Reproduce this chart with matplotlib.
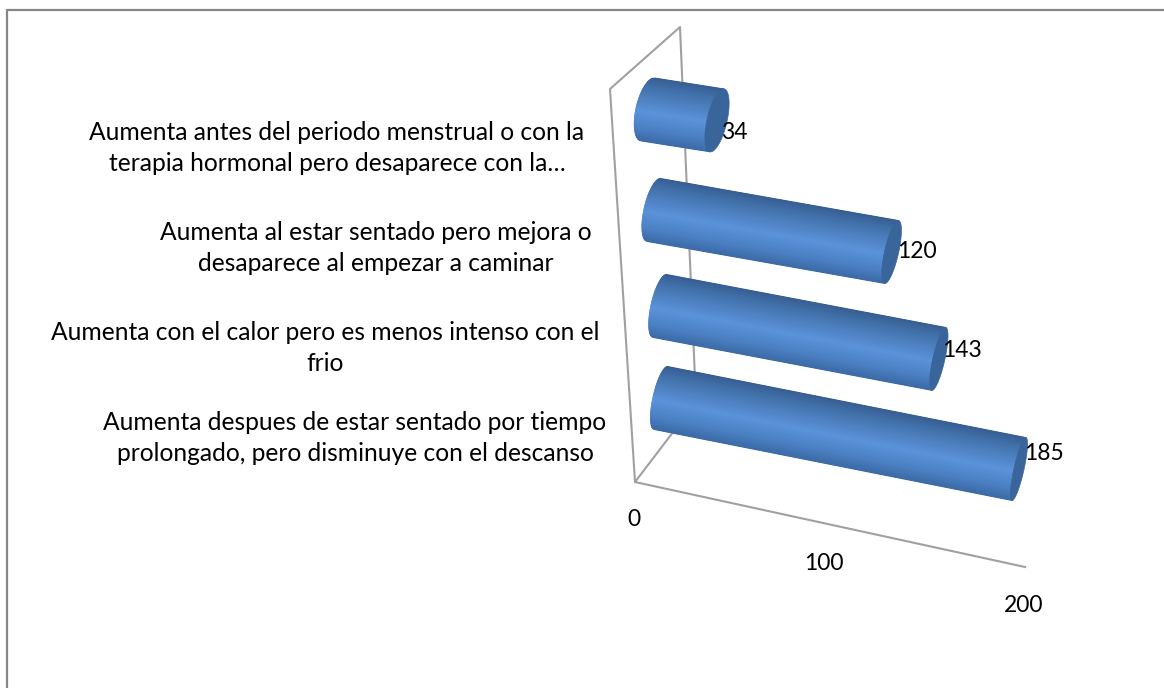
import numpy as np
import matplotlib
matplotlib.use('Agg')
import matplotlib.pyplot as plt
from matplotlib.collections import PolyCollection
from matplotlib.colors import LinearSegmentedColormap
from matplotlib.patches import Polygon

# Data, bottom bar first
categories = [
    'Aumenta despues de estar sentado por tiempo\nprolongado, pero disminuye con el descanso',
    'Aumenta con el calor pero es menos intenso con el\nfrio',
    'Aumenta al estar sentado pero mejora o\ndesaparece al empezar a caminar',
    'Aumenta antes del periodo menstrual o con la\nterapia hormonal pero desaparece con la…',
]
values = [185, 143, 120, 34]
value_ticks = [0, 100, 200]

# Fake 3D projection (pixels), one row per bar because of the perspective
bar_origin = [(661, 398), (660, 306), (654, 210), (648, 109.5)]
bar_step = [(1.935, 0.384), (1.95, 0.37), (1.98, 0.35), (2.03, 0.32)]
cap_minor = [5, 6, 7, 10]
base_minor = [8, 9, 10, 12]
half_height = (-7, 31.5)

cat_label_pos = [(355, 438), (325, 348), (376, 248), (337, 148)]
value_label_off = [(25, -16), (23.5, -8), (25.5, -1), (17.5, 12)]
tick_label_off = [(-1, 38), (-6, 38.5), (-1, 39)]

floor_origin = (635, 482)
floor_step = (1.95, 0.425)

wall_color = '#a0a0a0'
border_color = '#868686'
cap_color = '#39659b'
cmap = LinearSegmentedColormap.from_list(
    'cyl', [(0, '#375f93'), (0.18, '#4373ad'), (0.55, '#5b93da'),
            (0.82, '#4a7fc2'), (1, '#3c6ba6')])

plt.rcParams['font.family'] = ['Lato', 'DejaVu Sans']
fig = plt.figure(figsize=(11.64, 6.88), dpi=100)
ax = fig.add_axes([0, 0, 1, 1])
ax.set_xlim(0, 1164)
ax.set_ylim(688, 0)
ax.axis('off')

# Chart border
ax.plot([7, 7, 1164], [688, 10, 10], color=border_color, lw=1.6, zorder=1)

# Walls
ax.plot([635, 610, 680, 696], [482, 89, 27, 402], color=wall_color, lw=1.5, zorder=2)
ax.plot([696, 635, 635 + floor_step[0] * 200],
        [402, 482, 482 + floor_step[1] * 200], color=wall_color, lw=1.5, zorder=2)

for t, off in zip(value_ticks, tick_label_off):
    ax.text(floor_origin[0] + floor_step[0] * t + off[0],
            floor_origin[1] + floor_step[1] * t + off[1], str(t),
            fontsize=16.5, ha='center', va='center', color='black')


def cylinder(org, step, val, minor0, minor1, z):
    x1 = org[0] + step[0] * val
    y1 = org[1] + step[1] * val
    nrm = np.hypot(*step)
    ux, uy = step[0] / nrm, step[1] / nrm
    tt = np.linspace(-1, 1, 90)
    polys = []
    for a, b in zip(tt[:-1], tt[1:]):
        pts = []
        for t, end in ((a, 0), (b, 0), (b, 1), (a, 1)):
            s = -np.sqrt(1 - t * t)
            if end == 0:
                pts.append((org[0] + half_height[0] * t + ux * minor0 * s,
                            org[1] + half_height[1] * t + uy * minor0 * s))
            else:
                pts.append((x1 + half_height[0] * t, y1 + half_height[1] * t))
        polys.append(pts)
    cols = cmap((tt[:-1] + 1) / 2)
    ax.add_collection(PolyCollection(polys, facecolors=cols, edgecolors=cols,
                                     linewidths=0.6, zorder=z))
    # end cap
    th = np.linspace(0, 2 * np.pi, 100)
    cx = x1 + half_height[0] * np.sin(th) + ux * minor1 * np.cos(th)
    cy = y1 + half_height[1] * np.sin(th) + uy * minor1 * np.cos(th)
    ax.add_patch(Polygon(np.column_stack([cx, cy]), closed=True, fc=cap_color,
                         ec=cap_color, lw=0.5, zorder=z + 0.5))
    return x1, y1


for i, val in enumerate(values):
    x1, y1 = cylinder(bar_origin[i], bar_step[i], val, base_minor[i], cap_minor[i], 5 - i)
    ax.text(x1 + value_label_off[i][0], y1 + value_label_off[i][1], str(val),
            fontsize=16.5, ha='center', va='center', color='black', zorder=10)
    ax.text(cat_label_pos[i][0], cat_label_pos[i][1], categories[i], fontsize=17.75,
            ha='center', va='center', multialignment='center', linespacing=1.43,
            color='black')

fig.savefig('out.png', dpi=100)
